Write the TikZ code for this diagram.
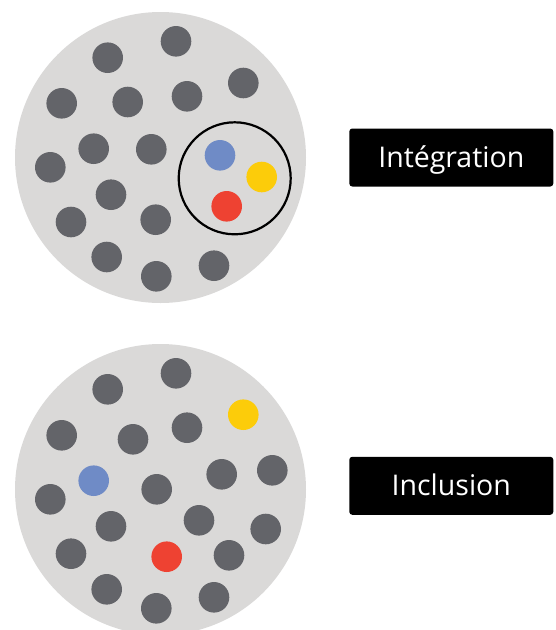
\documentclass[tikz,border=0pt]{standalone}
\usepackage{fontspec}
\setsansfont{Open Sans}
\usepackage{tikz}

\definecolor{disc}{HTML}{DAD9D8}
\definecolor{dotgray}{HTML}{636469}
\definecolor{dotblue}{HTML}{6F8BC6}
\definecolor{dotyellow}{HTML}{FCCC0A}
\definecolor{dotred}{HTML}{EE4232}

\tikzset{
  disc/.style={circle, fill=disc, minimum size=291pt, inner sep=0pt},
  dot/.style={circle, fill=dotgray, minimum size=30.6pt, inner sep=0pt},
  tag/.style={fill=black, rounded corners=3pt, minimum width=204pt, minimum height=58pt,
    text=white, font=\sffamily\fontsize{28.5}{32}\selectfont,
    text height=20.3pt, text depth=0pt}
}

\begin{document}
\begin{tikzpicture}[x=1pt, y=-1pt]
\useasboundingbox (0,0) rectangle (556,630);

% Upper disc
\node[disc] (discA) at (160.5,157.5) {};
\node[dot] (a1) at (107.7,57.7) {};
\node[dot] (a2) at (176,41.3) {};
\node[dot] (a3) at (61.7,103.3) {};
\node[dot] (a4) at (127.7,102) {};
\node[dot] (a5) at (187,96.3) {};
\node[dot] (a6) at (243.3,83) {};
\node[dot] (a7) at (93.7,148.7) {};
\node[dot] (a8) at (151.3,149.3) {};
\node[dot] (a9) at (50.3,167.3) {};
\node[dot] (a10) at (111,194.7) {};
\node[dot] (a11) at (71,222) {};
\node[dot] (a12) at (155.7,219.7) {};
\node[dot] (a13) at (106.7,257) {};
\node[dot] (a14) at (156.3,276.3) {};
\node[dot] (a15) at (214,265.7) {};

% the three coloured ones, grouped
\node[dot, fill=dotblue] (aBlue) at (220,155.3) {};
\node[dot, fill=dotyellow] (aYellow) at (261.7,177) {};
\node[dot, fill=dotred] (aRed) at (226.7,206.3) {};
\node[circle, draw=black, line width=2.2pt, minimum size=112pt, inner sep=0pt] (group) at (234.7,178.3) {};

% Lower disc
\node[disc] (discB) at (160.5,489.5) {};
\node[dot] (b1) at (107.7,389.3) {};
\node[dot] (b2) at (176,373.3) {};
\node[dot] (b3) at (61.7,435.3) {};
\node[dot] (b4) at (133,439.3) {};
\node[dot] (b5) at (187,427.7) {};
\node[dot] (b6) at (156.7,489.3) {};
\node[dot] (b7) at (221.7,474.3) {};
\node[dot] (b8) at (272.3,470.3) {};
\node[dot] (b9) at (50.3,499.3) {};
\node[dot] (b10) at (111,526.3) {};
\node[dot] (b11) at (199,520.3) {};
\node[dot] (b12) at (265.7,529) {};
\node[dot] (b13) at (71,553.7) {};
\node[dot] (b14) at (229,555.3) {};
\node[dot] (b15) at (106.7,589.3) {};
\node[dot] (b16) at (156.3,608.3) {};
\node[dot] (b17) at (214,597.3) {};

% the coloured ones, scattered
\node[dot, fill=dotyellow] (bYellow) at (243.3,414.7) {};
\node[dot, fill=dotblue] (bBlue) at (93.7,480.7) {};
\node[dot, fill=dotred] (bRed) at (166.7,556.7) {};

% Labels
\node[tag] (integration) at (451.3,157.5) {Intégration};
\node[tag] (inclusion) at (451.3,485.8) {Inclusion};

\end{tikzpicture}
\end{document}
